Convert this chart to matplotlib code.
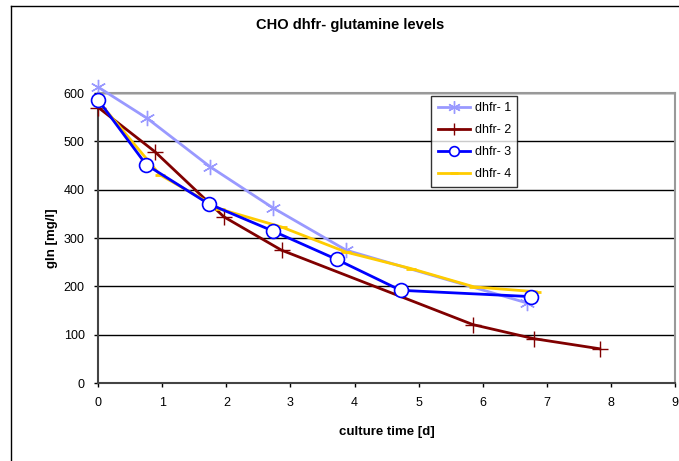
import matplotlib.pyplot as plt
from matplotlib.lines import Line2D

plt.rcParams['font.family'] = ['Liberation Sans', 'DejaVu Sans']

# data
t1 = [0, 0.76, 1.74, 2.72, 3.87, 6.69]
gln1 = [612, 548, 448, 363, 275, 166]

t2 = [0, 0.88, 1.96, 2.86, 5.85, 6.8, 7.83]
gln2 = [570, 479, 344, 275, 121, 92, 71]

t3 = [0, 0.745, 1.72, 2.72, 3.72, 4.72, 6.75]
gln3 = [585, 452, 371, 315, 256, 192, 179]

t4 = [0, 0.96, 1.9, 2.86, 3.87, 4.88, 5.87, 6.84]
gln4 = [583, 431, 360, 323, 271, 237, 199, 189]

labels = ['dhfr- 1', 'dhfr- 2', 'dhfr- 3', 'dhfr- 4']
colors = ['#9999FF', '#800000', '#0000FF', '#FFCC00']

fig = plt.figure(figsize=(6.79, 4.61), dpi=100)
ax = fig.add_axes([0.145, 0.169, 0.8485, 0.629])

ax.plot(t1, gln1, color=colors[0], lw=2, marker=(6, 2, 0), ms=11, mew=1,
        clip_on=False, zorder=3)
ax.plot(t2, gln2, color=colors[1], lw=2, marker='+', ms=12, mew=1,
        clip_on=False, zorder=3)
ax.plot(t4, gln4, color=colors[3], lw=2, marker='_', ms=7, mew=2,
        clip_on=False, zorder=3)
ax.plot(t3, gln3, color=colors[2], lw=2, marker='o', ms=10, mew=1.2,
        mfc='white', clip_on=False, zorder=4)

ax.set_xlim(0, 9)
ax.set_ylim(0, 600)
ax.set_xticks(range(0, 10))
ax.set_yticks(range(0, 700, 100))
ax.tick_params(labelsize=9, length=3, width=1, direction='out', pad=7)
ax.grid(axis='y', color='black', lw=1)
ax.set_axisbelow(True)
for s in ['top', 'right']:
    ax.spines[s].set_color('#999999')
    ax.spines[s].set_linewidth(1.5)
for s in ['left', 'bottom']:
    ax.spines[s].set_color('#444444')
    ax.spines[s].set_linewidth(1.5)

ax.set_xlabel('culture time [d]', fontsize=9.5, fontweight='bold', labelpad=12)
ax.set_ylabel('gln [mg/l]', fontsize=9.5, fontweight='bold', labelpad=4)
fig.text(0.515, 0.946, 'CHO dhfr- glutamine levels', ha='center', va='center',
         fontsize=10.5, fontweight='bold')

handles = [
    Line2D([], [], color=colors[0], lw=2, marker=(6, 2, 0), ms=9, mew=1),
    Line2D([], [], color=colors[1], lw=2, marker='+', ms=9, mew=1),
    Line2D([], [], color=colors[2], lw=2, marker='o', ms=7, mew=1.2, mfc='white'),
    Line2D([], [], color=colors[3], lw=2, marker='_', ms=6, mew=2),
]
leg = ax.legend(handles, labels, loc='upper left', bbox_to_anchor=(0.578, 0.99),
                fontsize=9, frameon=True, fancybox=False, handlelength=2.6,
                handletextpad=0.35, borderpad=0.5, labelspacing=0.8,
                borderaxespad=0)
leg.get_frame().set_edgecolor('black')
leg.get_frame().set_linewidth(1)

# outer chart frame
fig.add_artist(Line2D([11 / 679, 11 / 679], [0, 1 - 6 / 461],
                      transform=fig.transFigure, color='black', lw=1))
fig.add_artist(Line2D([11 / 679, 1], [1 - 6 / 461, 1 - 6 / 461],
                      transform=fig.transFigure, color='black', lw=1))

fig.savefig('out.png', dpi=100)
